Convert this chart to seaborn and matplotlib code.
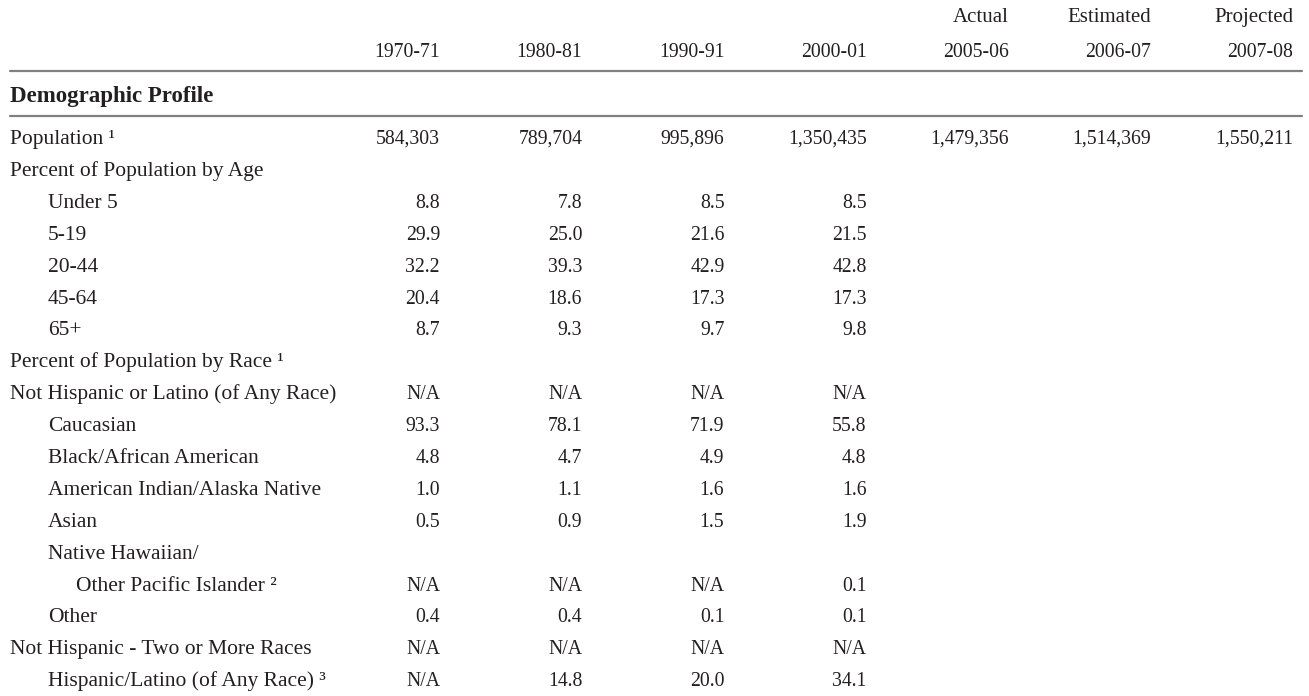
import matplotlib
matplotlib.use("Agg")
import matplotlib.pyplot as plt
import seaborn as sns
import pandas as pd

# column headers
periods = ["1970-71", "1980-81", "1990-91", "2000-01", "2005-06", "2006-07", "2007-08"]
period_kind = ["", "", "", "", "Actual", "Estimated", "Projected"]
section = "Demographic Profile"

# row labels and indent level
row_labels = [
    "Population \u00b9",
    "Percent of Population by Age",
    "Under 5",
    "5-19",
    "20-44",
    "45-64",
    "65+",
    "Percent of Population by Race \u00b9",
    "Not Hispanic or Latino (of Any Race)",
    "Caucasian",
    "Black/African American",
    "American Indian/Alaska Native",
    "Asian",
    "Native Hawaiian/",
    "Other Pacific Islander \u00b2",
    "Other",
    "Not Hispanic - Two or More Races",
    "Hispanic/Latino (of Any Race) \u00b3",
]
indent = [0, 0, 1, 1, 1, 1, 1, 0, 0, 1, 1, 1, 1, 1, 2, 1, 0, 1]

population = [584303, 789704, 995896, 1350435, 1479356, 1514369, 1550211]
under_5 = [8.8, 7.8, 8.5, 8.5]
age_5_19 = [29.9, 25.0, 21.6, 21.5]
age_20_44 = [32.2, 39.3, 42.9, 42.8]
age_45_64 = [20.4, 18.6, 17.3, 17.3]
age_65 = [8.7, 9.3, 9.7, 9.8]
not_hispanic = [None, None, None, None]
caucasian = [93.3, 78.1, 71.9, 55.8]
black = [4.8, 4.7, 4.9, 4.8]
am_indian = [1.0, 1.1, 1.6, 1.6]
asian = [0.5, 0.9, 1.5, 1.9]
pacific = [None, None, None, 0.1]
other = [0.4, 0.4, 0.1, 0.1]
two_or_more = [None, None, None, None]
hispanic = [None, 14.8, 20.0, 34.1]


def fmt(v):
    if v is None:
        return "N/A"
    return "{:.1f}".format(v)


values = [
    ["{:,}".format(p) for p in population],
    [],
    [fmt(v) for v in under_5],
    [fmt(v) for v in age_5_19],
    [fmt(v) for v in age_20_44],
    [fmt(v) for v in age_45_64],
    [fmt(v) for v in age_65],
    [],
    [fmt(v) for v in not_hispanic],
    [fmt(v) for v in caucasian],
    [fmt(v) for v in black],
    [fmt(v) for v in am_indian],
    [fmt(v) for v in asian],
    [],
    [fmt(v) for v in pacific],
    [fmt(v) for v in other],
    [fmt(v) for v in two_or_more],
    [fmt(v) for v in hispanic],
]

rows = []
for r, vals in enumerate(values):
    for c, v in enumerate(vals):
        rows.append({"row": r, "col": c, "text": v})
cells = pd.DataFrame(rows)

sns.set_theme(style="white")
plt.rcParams["font.family"] = ["Liberation Serif", "DejaVu Serif"]

W, H = 1309, 696
fig = plt.figure(figsize=(W / 100, H / 100), dpi=100)
ax = fig.add_axes([0, 0, 1, 1])
ax.set_xlim(0, W)
ax.set_ylim(H, 0)
ax.set_axis_off()

ink = "#231f20"
fs_num = 14.2     # numbers / years
fs_lab = 15.5     # row labels / words
col_right0, col_step = 440, 142.2
row0, row_step = 137, 31.9
base = 7
left = 10
indent_x = [10, 48, 76]

def col_x(c):
    return col_right0 + c * col_step

def row_y(r):
    return row0 + r * row_step

# header
for c, (p, k) in enumerate(zip(periods, period_kind)):
    ax.text(col_x(c), 50 + base, p, ha="right", va="baseline", fontsize=fs_num, color=ink)
    if k:
        ax.text(col_x(c), 15 + base, k, ha="right", va="baseline", fontsize=fs_lab - 0.5, color=ink)

ax.axhline(70.5, xmin=left / W, xmax=1302 / W, color="#808080", lw=1.6)
ax.text(left, 95 + base, section, ha="left", va="baseline", fontsize=16.5,
        fontweight="bold", color=ink)
ax.axhline(116, xmin=left / W, xmax=1302 / W, color="#808080", lw=1.6)

for r, (lab, lvl) in enumerate(zip(row_labels, indent)):
    ax.text(indent_x[lvl], row_y(r) + base, lab,
            ha="left", va="baseline", fontsize=fs_lab, color=ink)

for _, cell in cells.iterrows():
    ax.text(col_x(cell["col"]), row_y(cell["row"]) + base, cell["text"],
            ha="right", va="baseline", fontsize=fs_num, color=ink)

fig.savefig("out.png", dpi=100, facecolor="white")
